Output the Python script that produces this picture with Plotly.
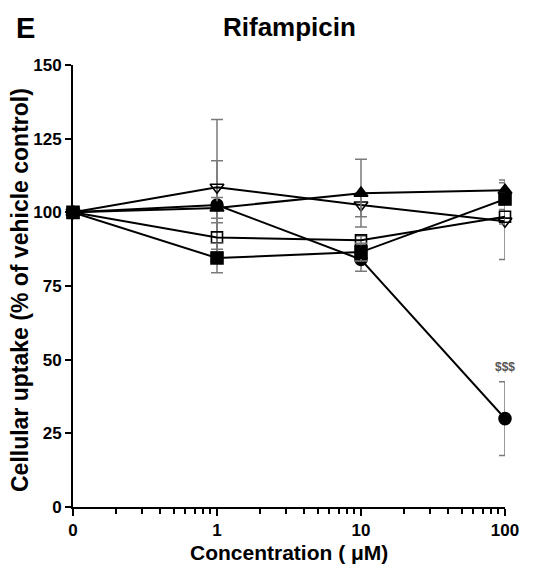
import plotly.graph_objects as go

# ---- data ----
concentration = [0, 1, 10, 100]          # µM
tick_labels = ["0", "1", "10", "100"]

circle_filled = [100, 102.5, 84.0, 30.0]
circle_filled_sd = [0, 15.0, 4.0, 12.5]

tri_down_open = [100, 108.5, 102.5, 97.0]
tri_down_open_sd = [0, 23.0, 4.0, 13.0]

tri_up_filled = [100, 101.5, 106.5, 107.5]
tri_up_filled_sd = [0, 3.5, 11.5, 3.5]

square_open = [100, 91.5, 90.5, 98.5]
square_open_sd = [0, 5.0, 1.5, 2.5]

square_filled = [100, 84.5, 86.5, 104.5]
square_filled_sd = [0, 5.0, 3.0, 2.0]

# 0 is drawn one decade below 1 on the log axis
x_pos = [c if c > 0 else 0.1 for c in concentration]

FONT = "Liberation Sans, Arial, sans-serif"
ERR = "#7a7a7a"

series = [
    (circle_filled, circle_filled_sd, "circle", 12),
    (tri_down_open, tri_down_open_sd, "triangle-down-open", 12),
    (tri_up_filled, tri_up_filled_sd, "triangle-up", 12),
    (square_open, square_open_sd, "square-open", 11),
    (square_filled, square_filled_sd, "square", 12),
]

fig = go.Figure()
for vals, sd, sym, size in series:
    fig.add_trace(go.Scatter(
        x=x_pos, y=vals, mode="lines+markers",
        line=dict(color="black", width=2),
        marker=dict(symbol=sym, size=size, color="black",
                    line=dict(color="black", width=1.6)),
        error_y=dict(type="data", array=sd, visible=True,
                     color=ERR, thickness=1.5, width=6),
        cliponaxis=False, showlegend=False,
    ))

minor_vals = [m * d for d in (0.1, 1, 10) for m in range(2, 10)]

fig.update_layout(
    width=539, height=571,
    margin=dict(l=73, r=34, t=65, b=64),
    paper_bgcolor="white", plot_bgcolor="white",
    font=dict(family=FONT, color="black"),
    xaxis=dict(
        type="log", range=[-1, 2],
        tickmode="array", tickvals=x_pos, ticktext=tick_labels,
        ticks="outside", ticklen=7, tickwidth=2, tickcolor="black",
        showline=True, linecolor="black", linewidth=2,
        showgrid=False, zeroline=False,
        tickfont=dict(size=17, family=FONT, weight="bold"),
        minor=dict(tickvals=minor_vals, ticks="outside", ticklen=5,
                   tickwidth=2, tickcolor="black", showgrid=False),
    ),
    yaxis=dict(
        range=[0, 150], tickmode="array", tickvals=[0, 25, 50, 75, 100, 125, 150],
        ticks="outside", ticklen=6, tickwidth=2, tickcolor="black",
        showline=True, linecolor="black", linewidth=2,
        showgrid=False, zeroline=False,
        tickfont=dict(size=17, family=FONT, weight="bold"),
    ),
    annotations=[
        dict(text="<b>E</b>", xref="paper", yref="paper", x=0, y=1,
             xanchor="center", yanchor="middle", xshift=-48, yshift=37,
             showarrow=False, font=dict(size=29, family=FONT)),
        dict(text="<b>Rifampicin</b>", xref="paper", yref="paper", x=0.5, y=1,
             xanchor="center", yanchor="middle", yshift=38,
             showarrow=False, font=dict(size=26, family=FONT)),
        dict(text="<b>Cellular uptake (% of vehicle control)</b>", xref="paper", yref="paper",
             x=0, y=0.5, xanchor="center", yanchor="middle", xshift=-53, yshift=-4,
             textangle=-90, showarrow=False, font=dict(size=23, family=FONT)),
        dict(text="<b>Concentration (\u00a0\u03bcM)</b>", xref="paper", yref="paper",
             x=0.5, y=0, xanchor="center", yanchor="middle", yshift=-45,
             showarrow=False, font=dict(size=21, family=FONT)),
        dict(text="<b>$$$</b>", xref="x", yref="y", x=2, y=47.5,
             xanchor="center", yanchor="middle", showarrow=False,
             font=dict(size=12, family=FONT, color="#555555")),
    ],
)

fig.write_html("out.html")
